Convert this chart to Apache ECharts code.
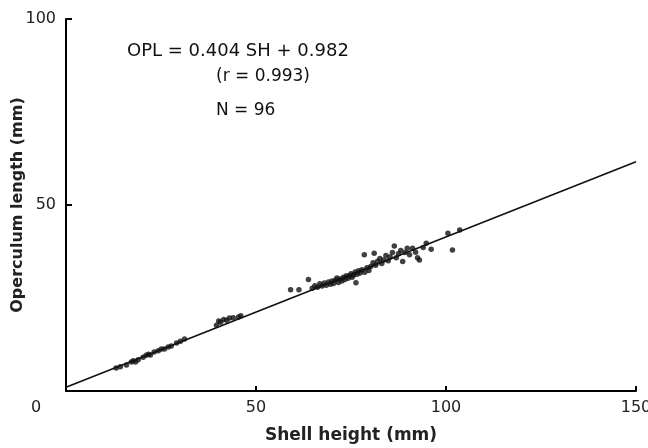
<!DOCTYPE html>
<html>
<head>
<meta charset="utf-8">
<script src="https://cdn.jsdelivr.net/npm/echarts@6/dist/echarts.min.js"></script>
<style>html,body{margin:0;padding:0;background:#fff}#c{width:648px;height:448px}</style>
</head>
<body>
<div id="c"></div>
<script>
// Shell height (mm) and operculum length (mm)
const shellHeight = [
  13.2,14.3,15.9,17.2,17.7,18.3,19.0,20.3,21.1,21.7,22.2,23.2,24.3,25.1,25.9,26.9,27.7,29.1,30.1,31.2,
  39.6,40.2,40.7,41.5,42.3,43.0,44.0,45.4,46.0,
  59.1,61.3,63.8,64.8,65.5,66.2,66.8,67.4,68.0,68.5,69.1,69.6,70.0,70.4,70.9,71.3,71.7,72.1,72.6,73.0,
  73.4,73.8,74.2,74.6,75.0,75.3,75.7,76.1,76.3,76.6,77.0,77.4,77.9,78.5,78.6,79.2,79.7,80.2,80.8,81.1,
  81.5,82.0,82.6,83.1,83.6,84.2,84.8,85.3,85.9,86.4,86.9,87.5,88.1,88.6,89.2,89.8,90.4,91.2,92.0,92.5,
  93.0,94.0,94.8,96.1,100.5,101.7,103.6
];
const operculumLength = [
  6.2,6.5,7.0,7.8,8.1,7.8,8.4,9.1,9.6,9.9,9.7,10.5,10.8,11.3,11.3,11.8,12.1,12.9,13.4,14.0,
  17.7,18.8,18.5,19.2,19.0,19.6,19.7,19.9,20.2,
  27.2,27.2,30.0,27.6,28.3,27.9,28.8,28.2,29.0,28.4,29.3,28.7,29.6,28.9,29.8,30.4,29.2,30.1,29.6,30.6,
  30.0,31.0,30.3,30.9,31.5,30.6,31.2,32.0,29.1,31.4,32.3,31.7,32.6,36.6,31.9,33.1,32.4,33.5,34.5,37.0,
  33.8,34.9,35.6,34.3,35.2,36.4,35.0,36.0,37.2,39.0,35.8,36.9,37.8,34.8,37.2,38.4,36.6,38.4,37.3,35.8,
  35.2,38.6,39.7,38.1,42.4,37.9,43.3
];
// Regression line OPL = 0.404 SH + 0.982, drawn between its two ends
const lineX = [0, 150];
const lineY = [0.98, 61.6];
const equationLines = ['OPL = 0.404 SH + 0.982', '(r = 0.993)', 'N = 96'];

const FONT = 'DejaVu Sans';
const points = shellHeight.map((v, i) => [v, operculumLength[i]]);
const linePts = lineX.map((v, i) => [v, lineY[i]]);

const chart = echarts.init(document.getElementById('c'), null, {renderer: 'canvas'});
chart.setOption({
  animation: false,
  backgroundColor: '#fff',
  grid: {left: 66, right: 12, top: 19, bottom: 57, containLabel: false, outerBoundsMode: 'none'},
  xAxis: {
    type: 'value', min: 0, max: 150, interval: 50,
    name: 'Shell height (mm)', nameLocation: 'middle', nameGap: 36, nameMoveOverlap: false,
    nameTextStyle: {fontFamily: FONT, fontSize: 17, color: '#222', fontWeight: 'bold'},
    axisLine: {show: true, lineStyle: {color: '#000', width: 2}},
    axisTick: {show: true, inside: true, length: 5, lineStyle: {color: '#000', width: 2}},
    axisLabel: {
      fontFamily: FONT, fontSize: 16, color: '#222', margin: 9,
      formatter: function (v) { return v === 0 ? '{z|0}' : String(v); },
      rich: {z: {fontFamily: FONT, fontSize: 16, color: '#222', padding: [0, 60, 6, 0]}}
    },
    splitLine: {show: false}
  },
  yAxis: {
    type: 'value', min: 0, max: 100, interval: 50,
    name: 'Operculum length (mm)', nameLocation: 'middle', nameGap: 40, nameMoveOverlap: false,
    nameTextStyle: {fontFamily: FONT, fontSize: 16, color: '#222', fontWeight: 'bold'},
    axisLine: {show: true, lineStyle: {color: '#000', width: 2}},
    axisTick: {show: true, inside: true, length: 6, lineStyle: {color: '#000', width: 2}},
    axisLabel: {
      fontFamily: FONT, fontSize: 16, color: '#222', margin: 10,
      formatter: function (v) { return v === 0 ? '' : String(v); }
    },
    splitLine: {show: false}
  },
  series: [
    {
      type: 'line', data: linePts, symbol: 'none',
      lineStyle: {color: '#111', width: 1.6}, z: 2
    },
    {
      type: 'scatter', data: points, symbol: 'circle', symbolSize: 5.5,
      itemStyle: {color: '#111'}, z: 3
    }
  ],
  graphic: [
    {type: 'text', left: 127, top: 42, style: {text: equationLines[0], font: '18px "' + FONT + '"', fill: '#111'}},
    {type: 'text', left: 216, top: 68, style: {text: equationLines[1], font: '17px "' + FONT + '"', fill: '#111'}},
    {type: 'text', left: 216, top: 102, style: {text: equationLines[2], font: '17px "' + FONT + '"', fill: '#111'}}
  ]
});
</script>
</body>
</html>
